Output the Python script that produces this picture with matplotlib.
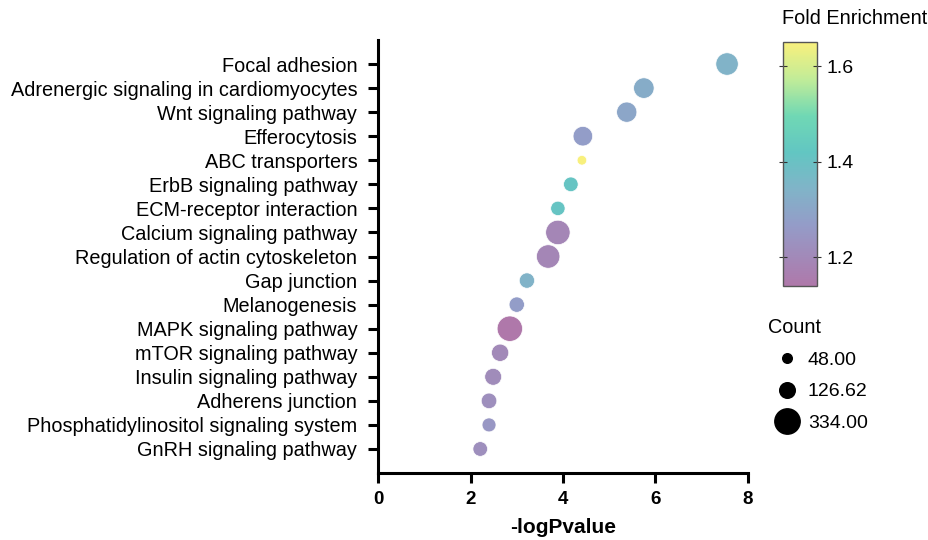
import matplotlib
matplotlib.use("Agg")
import matplotlib.pyplot as plt
import numpy as np
from matplotlib.colors import LinearSegmentedColormap, Normalize
from matplotlib.lines import Line2D

plt.rcParams['font.family'] = ['Liberation Sans', 'DejaVu Sans']

# pathways, top to bottom as drawn
pathways = ['Focal adhesion', 'Adrenergic signaling in cardiomyocytes', 'Wnt signaling pathway',
            'Efferocytosis', 'ABC transporters', 'ErbB signaling pathway', 'ECM-receptor interaction',
            'Calcium signaling pathway', 'Regulation of actin cytoskeleton', 'Gap junction',
            'Melanogenesis', 'MAPK signaling pathway', 'mTOR signaling pathway',
            'Insulin signaling pathway', 'Adherens junction', 'Phosphatidylinositol signaling system',
            'GnRH signaling pathway']
neg_log_p = [7.55, 5.75, 5.38, 4.43, 4.41, 4.17, 3.89, 3.89, 3.68, 3.22, 3.00, 2.85, 2.64, 2.49, 2.40, 2.40, 2.21]
counts = [261, 218, 212, 198, 48, 111, 107, 309, 285, 122, 122, 334, 155, 148, 126, 101, 111]
fold = [1.34, 1.32, 1.30, 1.27, 1.65, 1.41, 1.41, 1.19, 1.19, 1.34, 1.27, 1.14, 1.20, 1.21, 1.22, 1.25, 1.22]

legend_counts = [48.00, 126.62, 334.00]
cbar_ticks = [1.2, 1.4, 1.6]

cmap = LinearSegmentedColormap.from_list('fe', [
    (0.0, '#af78aa'), (0.25, '#949cc8'), (0.4, '#80b4c8'), (0.55, '#62c6c2'),
    (0.7, '#70d8b4'), (0.85, '#c2ec98'), (1.0, '#f8f07d')])
norm = Normalize(vmin=1.139, vmax=1.65)

fig = plt.figure(figsize=(9.29, 5.4), dpi=100)
ax = fig.add_axes([0.407, 0.124, 0.398, 0.802])

ypos = np.arange(len(pathways))[::-1]
size_scale = 1.0
ax.scatter(neg_log_p, ypos, s=np.array(counts) * size_scale, c=fold, cmap=cmap, norm=norm,
           edgecolors='white', linewidths=0.5, zorder=3)

ax.set_yticks(ypos)
ax.set_yticklabels(pathways, fontsize=14.3)
ax.set_ylim(-1, len(pathways))
ax.set_xlim(0, 8)
ax.set_xticks([0, 2, 4, 6, 8])
for lab in ax.get_xticklabels():
    lab.set_fontweight('bold')
ax.tick_params(axis='x', labelsize=13.5, width=2.2, length=7, pad=6)
ax.tick_params(axis='y', width=2.2, length=7, pad=8)
ax.set_xlabel('-logPvalue', fontsize=15, fontweight='bold', labelpad=7)
for side in ['top', 'right']:
    ax.spines[side].set_visible(False)
for side in ['left', 'bottom']:
    ax.spines[side].set_linewidth(2.2)

# colorbar
cax = fig.add_axes([0.843, 0.470, 0.0366, 0.452])
sm = plt.cm.ScalarMappable(norm=norm, cmap=cmap)
cb = fig.colorbar(sm, cax=cax, ticks=cbar_ticks)
cb.outline.set_edgecolor('#555555')
cb.outline.set_linewidth(1)
cax.tick_params(labelsize=14, direction='inout', length=6, left=True, color='#333333')
cax.set_yticklabels(['1.2', '1.4', '1.6'])
fig.text(0.92, 0.948, 'Fold Enrichment', fontsize=14.3, ha='center', va='bottom')

# size legend
handles = [Line2D([], [], linestyle='', marker='o', color='black',
                  markersize=np.sqrt(c * size_scale)) for c in legend_counts]
leg = fig.legend(handles, ['%.2f' % c for c in legend_counts], title='Count',
                 loc='upper left', bbox_to_anchor=(0.812, 0.436), frameon=False,
                 fontsize=14, title_fontsize=14.3, handletextpad=0.05, labelspacing=0.72,
                 alignment='left', borderpad=0.2)

fig.savefig('out.png', dpi=100)
